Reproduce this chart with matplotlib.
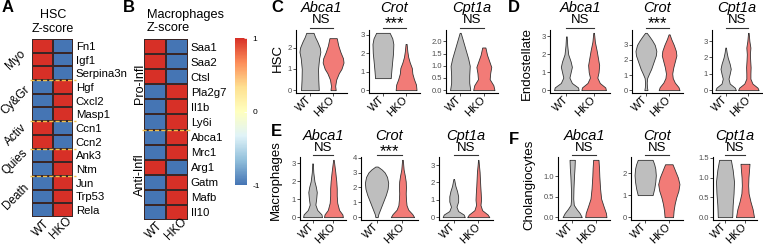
import numpy as np
import matplotlib
matplotlib.use("Agg")
import matplotlib.pyplot as plt
from matplotlib.colors import LinearSegmentedColormap, Normalize
from matplotlib.cm import ScalarMappable
from matplotlib.lines import Line2D
from matplotlib.ticker import MultipleLocator, FormatStrFormatter
from matplotlib.transforms import blended_transform_factory

plt.rcParams['font.family'] = ['Liberation Sans', 'DejaVu Sans']

W, H = 763, 246

# ---- heatmap A (HSC) z-scores
hsc_genes = ['Fn1', 'Igf1', 'Serpina3n', 'Hgf', 'Cxcl2', 'Masp1', 'Ccn1', 'Ccn2',
             'Ank3', 'Ntm', 'Jun', 'Trp53', 'Rela']
hsc_wt = [1, 1, 1, -1, -1, -1, 1, 1, -1, -1, -1, -1, -1]
hsc_hko = [-1, -1, -1, 1, 1, 1, -1, -1, 1, 1, 1, 1, 1]
hsc_groups = ['Myo', 'Cy&Gr', 'Activ', 'Quies', 'Death']
hsc_group_rows = [3, 3, 2, 2, 3]

# ---- heatmap B (macrophages) z-scores
mac_genes = ['Saa1', 'Saa2', 'Ctsl', 'Pla2g7', 'Il1b', 'Ly6i', 'Abca1', 'Mrc1',
             'Arg1', 'Gatm', 'Mafb', 'Il10']
mac_wt = [1, 1, 1, -1, -1, -1, -1, -1, 1, -1, -1, -1]
mac_hko = [-1, -1, -1, 1, 1, 1, 1, 1, -1, 1, 1, 1]
mac_groups = ['Pro-Infl', 'Anti-Infl']
mac_group_rows = [6, 6]

conditions = ['WT', 'HKO']
vln_genes = ['Abca1', 'Crot', 'Cpt1a']
cell_types = ['HSC', 'Endostellate', 'Macrophages', 'Cholangiocytes']
hsc_sig = ['NS', '***', 'NS']
endo_sig = ['NS', '***', 'NS']
mac_sig = ['NS', '***', 'NS']
chol_sig = ['NS', 'NS', 'NS']

# ---- violin outlines: (expression level, relative width)
hsc_abca1_wt = ([0, 0.5, 1.0, 1.5, 1.8, 2.0, 2.3, 2.5, 2.7],
                [0.85, 0.8, 0.78, 0.88, 1.0, 0.95, 0.7, 0.5, 0.35])
hsc_abca1_hko = ([0, 0.2, 0.5, 0.8, 1.0, 1.3, 1.5, 1.8, 2.1, 2.45],
                 [0.25, 0.2, 0.3, 0.55, 0.8, 1.0, 0.95, 0.7, 0.5, 0.35])
hsc_crot_wt = ([0.65, 1.0, 1.5, 2.0, 2.5, 2.8, 3.1],
               [0.75, 0.8, 0.88, 0.97, 1.0, 0.9, 0.65])
hsc_crot_hko = ([0, 0.3, 0.6, 0.9, 1.2, 1.5, 1.8, 2.1, 2.5],
                [1.0, 0.95, 0.75, 0.6, 0.55, 0.35, 0.2, 0.12, 0.05])
hsc_cpt1a_wt = ([0, 0.3, 0.6, 1.0, 1.3, 1.6, 1.9, 2.2, 2.35],
                [0.95, 0.85, 0.85, 0.9, 0.75, 0.55, 0.35, 0.15, 0.05])
hsc_cpt1a_hko = ([0, 0.2, 0.45, 0.7, 0.95, 1.2, 1.45, 1.75],
                 [1.0, 0.9, 0.55, 0.6, 0.7, 0.5, 0.3, 0.15])

endo_abca1_wt = ([0, 0.15, 0.4, 0.7, 1.0, 1.3, 1.6, 2.0, 2.5, 3.0],
                 [1.0, 0.95, 0.45, 0.25, 0.35, 0.45, 0.35, 0.15, 0.07, 0.03])
endo_abca1_hko = ([0, 0.15, 0.4, 0.7, 1.0, 1.4, 1.8, 2.2, 2.7, 3.2],
                  [1.0, 0.95, 0.5, 0.3, 0.4, 0.45, 0.35, 0.25, 0.1, 0.03])
endo_crot_wt = ([0, 0.2, 0.5, 0.8, 1.1, 1.4, 1.7, 2.0, 2.3, 2.6, 3.0, 3.3, 3.6, 3.8],
                [0.15, 0.1, 0.08, 0.12, 0.3, 0.5, 0.65, 0.8, 0.95, 1.0, 0.85, 0.6, 0.3, 0.08])
endo_crot_hko = ([0, 0.2, 0.5, 0.8, 1.1, 1.5, 1.9, 2.3, 2.6, 3.0, 3.4, 3.7],
                 [1.0, 0.9, 0.55, 0.35, 0.3, 0.4, 0.55, 0.7, 0.65, 0.45, 0.2, 0.05])
endo_cpt1a_wt = ([0, 0.15, 0.4, 0.7, 1.0, 1.3, 1.6, 2.0, 2.3, 2.6],
                 [1.0, 0.9, 0.4, 0.28, 0.4, 0.5, 0.4, 0.2, 0.1, 0.03])
endo_cpt1a_hko = ([0, 0.15, 0.4, 0.7, 1.0, 1.4, 1.8, 2.2, 2.6, 3.0, 3.5],
                  [1.0, 0.9, 0.4, 0.2, 0.2, 0.22, 0.18, 0.15, 0.2, 0.1, 0.03])

mac_abca1_wt = ([0, 0.15, 0.4, 0.7, 1.0, 1.4, 1.7, 2.0, 2.5, 3.0],
                [1.0, 0.95, 0.5, 0.3, 0.38, 0.45, 0.35, 0.2, 0.08, 0.03])
mac_abca1_hko = ([0, 0.15, 0.4, 0.8, 1.2, 1.6, 2.0, 2.5, 3.0, 3.2],
                 [1.0, 0.95, 0.6, 0.4, 0.35, 0.35, 0.3, 0.2, 0.08, 0.03])
mac_crot_wt = ([0, 0.2, 0.5, 0.8, 1.1, 1.5, 1.9, 2.3, 2.7, 3.0, 3.2, 3.4],
               [0.1, 0.15, 0.3, 0.45, 0.6, 0.8, 0.95, 1.0, 0.9, 0.7, 0.45, 0.1])
mac_crot_hko = ([0, 0.2, 0.5, 0.8, 1.2, 1.6, 2.0, 2.4, 2.8, 3.2, 3.85],
                [1.0, 0.85, 0.5, 0.35, 0.3, 0.28, 0.3, 0.28, 0.2, 0.1, 0.03])
mac_cpt1a_wt = ([0, 0.15, 0.35, 0.6, 0.9, 1.2, 1.5, 1.8, 2.2],
                [1.0, 0.9, 0.4, 0.25, 0.4, 0.4, 0.3, 0.15, 0.03])
mac_cpt1a_hko = ([0, 0.15, 0.4, 0.7, 1.0, 1.4, 1.8, 2.2, 2.6, 3.0, 3.3],
                 [1.0, 0.85, 0.35, 0.2, 0.25, 0.22, 0.18, 0.15, 0.12, 0.06, 0.02])

chol_abca1_wt = ([0, 0.1, 0.2, 0.3, 0.45, 0.7, 1.0, 1.2, 1.4],
                 [0.9, 0.7, 0.4, 0.15, 0.1, 0.12, 0.17, 0.22, 0.25])
chol_abca1_hko = ([0, 0.1, 0.25, 0.45, 0.7, 1.0, 1.2, 1.4],
                  [1.0, 0.95, 0.75, 0.5, 0.4, 0.33, 0.3, 0.25])
chol_crot_wt = ([1.0, 1.3, 1.6, 1.9, 2.2, 2.4, 2.6],
                [0.7, 0.85, 0.95, 1.0, 0.95, 0.85, 0.7])
chol_crot_hko = ([0, 0.3, 0.6, 0.9, 1.2, 1.5, 1.8, 2.1, 2.4],
                 [0.4, 0.45, 0.55, 0.7, 0.9, 1.0, 0.85, 0.6, 0.35])
chol_cpt1a_wt = ([0, 0.3, 0.6, 0.9, 1.2, 1.45],
                 [0.8, 0.85, 0.95, 1.0, 0.85, 0.65])
chol_cpt1a_hko = ([0, 0.2, 0.4, 0.6, 0.8, 1.0, 1.2, 1.35],
                  [1.0, 0.85, 0.6, 0.4, 0.35, 0.38, 0.45, 0.5])

cmap = LinearSegmentedColormap.from_list(
    'zs', ['#4575B4', '#91BFDB', '#E0F3F8', '#FFFFBF', '#FEE090', '#FC8D59', '#D73027'])
wt_color = '#BEBEBE'
hko_color = '#F27B77'
dark = '#333333'


def px_axes(fig, l, t, r, b):
    return fig.add_axes([l / W, 1 - b / H, (r - l) / W, (b - t) / H])


def ftext(fig, x, y, s, **kw):
    return fig.text(x / W, 1 - y / H, s, **kw)


def fline(fig, x0, x1, y, **kw):
    fig.add_artist(Line2D([x0 / W, x1 / W], [1 - y / H] * 2,
                          transform=fig.transFigure, **kw))


def heatmap(fig, box, genes, wt, hko, groups, group_rows, group_x, group_rot, gsize):
    l, t, r, b = box
    ax = px_axes(fig, *box)
    z = np.column_stack([wt, hko])
    ax.pcolormesh(z, cmap=cmap, vmin=-1, vmax=1, edgecolors='#3a2626', linewidth=0.35)
    ax.set_xlim(0, 2)
    ax.set_ylim(len(genes), 0)
    ax.yaxis.tick_right()
    ax.set_yticks(np.arange(len(genes)) + 0.5)
    ax.set_yticklabels(genes, fontsize=8.2)
    ax.tick_params(axis='y', length=0, pad=2)
    ax.set_xticks([])
    for s in ax.spines.values():
        s.set_visible(False)
    rowh = (b - t) / len(genes)
    start = 0
    for i, (g, n) in enumerate(zip(groups, group_rows)):
        yc = t + (start + n / 2) * rowh
        ftext(fig, group_x, yc, g, rotation=group_rot, ha='center', va='center',
              fontsize=gsize)
        start += n
        if i < len(groups) - 1:
            fline(fig, l - 2, r + 3, t + start * rowh, color='#F2C04A', lw=1.0,
                  ls=(0, (3, 1.5)))
    return ax


def violin_panel(fig, box, wt, hko, title, sig, step, row_y):
    l, t, r, b = box
    ax = px_axes(fig, *box)
    for x, (ys, ws), col in zip([1, 2], [wt, hko], [wt_color, hko_color]):
        ys = np.asarray(ys, float)
        ws = np.asarray(ws, float)
        yy = np.linspace(ys[0], ys[-1], 200)
        half = 0.45 * np.interp(yy, ys, ws)
        ax.fill_betweenx(yy, x - half, x + half, facecolor=col, edgecolor=dark, lw=0.6)
    top = max(wt[0][-1], hko[0][-1])
    ax.set_ylim(-0.05 * top, 1.05 * top)
    ax.set_xlim(0.4, 2.6)
    ax.yaxis.set_major_locator(MultipleLocator(step))
    ax.yaxis.set_major_formatter(FormatStrFormatter('%.1f' if step < 1 else '%d'))
    for s in ['top', 'right']:
        ax.spines[s].set_visible(False)
    for s in ['left', 'bottom']:
        ax.spines[s].set_linewidth(0.8)
    ax.tick_params(axis='y', length=2, width=0.6, color=dark, labelsize=5.5,
                   labelcolor='#4d4d4d', pad=1)
    ax.tick_params(axis='x', length=2, width=0.6, color=dark, pad=1.5)
    ax.set_xticks([1, 2])
    ax.set_xticklabels(conditions, fontsize=7.8, rotation=45, ha='right',
                       va='center', rotation_mode='anchor')

    def frac(ypx):
        return (b - ypx) / (b - t)

    title_y, sig_y, br_y = row_y
    ax.text(0.5, frac(title_y), title, transform=ax.transAxes, ha='center',
            va='center', fontsize=10.5, style='italic')
    bt = blended_transform_factory(ax.transData, ax.transAxes)
    if sig == '***':
        ax.text(1.5, frac(sig_y + 4), sig, transform=bt, ha='center',
                va='center', fontsize=12)
    else:
        ax.text(1.5, frac(sig_y), sig, transform=bt, ha='center', va='center',
                fontsize=9.5)
    ax.plot([1, 2], [frac(br_y)] * 2, transform=bt, color=dark, lw=0.8, clip_on=False)
    return ax


fig = plt.figure(figsize=(W / 100, H / 100), dpi=100)

# ---- A
heatmap(fig, (32, 39, 73, 217), hsc_genes, hsc_wt, hsc_hko, hsc_groups,
        hsc_group_rows, 15.5, 45, 8.5)
ftext(fig, 53, 15, 'HSC', ha='center', va='center', fontsize=9)
ftext(fig, 53, 29, 'Z-score', ha='center', va='center', fontsize=9)
ftext(fig, 41, 228, conditions[0], rotation=45, ha='center', va='center', fontsize=8.5)
ftext(fig, 61, 228, conditions[1], rotation=45, ha='center', va='center', fontsize=8.5)

# ---- B
heatmap(fig, (144, 39, 188, 220), mac_genes, mac_wt, mac_hko, mac_groups,
        mac_group_rows, 140, 90, 9)
ftext(fig, 147, 15, 'Macrophages', ha='left', va='center', fontsize=9.2)
ftext(fig, 147, 28, 'Z-score', ha='left', va='center', fontsize=9.2)
ftext(fig, 154, 230, conditions[0], rotation=45, ha='center', va='center', fontsize=8.5)
ftext(fig, 176, 229, conditions[1], rotation=45, ha='center', va='center', fontsize=8.5)

cax = px_axes(fig, 235, 38, 247, 185)
cb = fig.colorbar(ScalarMappable(Normalize(-1, 1), cmap), cax=cax, ticks=[-1, 0, 1])
cb.outline.set_visible(False)
cax.tick_params(length=2.5, width=0.6, color='white', direction='in', labelsize=6,
                pad=4)
cax.set_yticklabels(['-1', '0', '1'])

# ---- violins
row1 = (8, 20, 28)
row2 = (136, 148, 155)
panels = [
    ((296, 30, 347, 93), hsc_abca1_wt, hsc_abca1_hko, 0, hsc_sig, 1, row1),
    ((369, 30, 420, 93), hsc_crot_wt, hsc_crot_hko, 1, hsc_sig, 1, row1),
    ((446, 30, 498, 93), hsc_cpt1a_wt, hsc_cpt1a_hko, 2, hsc_sig, 0.5, row1),
    ((550, 30, 610, 93), endo_abca1_wt, endo_abca1_hko, 0, endo_sig, 1, row1),
    ((632, 30, 683, 93), endo_crot_wt, endo_crot_hko, 1, endo_sig, 1, row1),
    ((712, 30, 762, 93), endo_cpt1a_wt, endo_cpt1a_hko, 2, endo_sig, 1, row1),
    ((300, 157, 346, 220), mac_abca1_wt, mac_abca1_hko, 0, mac_sig, 1, row2),
    ((361, 157, 418, 220), mac_crot_wt, mac_crot_hko, 1, mac_sig, 1, row2),
    ((439, 157, 493, 220), mac_cpt1a_wt, mac_cpt1a_hko, 2, mac_sig, 1, row2),
    ((558, 157, 610, 220), chol_abca1_wt, chol_abca1_hko, 0, chol_sig, 0.5, row2),
    ((631, 157, 683, 220), chol_crot_wt, chol_crot_hko, 1, chol_sig, 1, row2),
    ((713, 157, 757, 220), chol_cpt1a_wt, chol_cpt1a_hko, 2, chol_sig, 0.5, row2),
]
for box, wt, hko, gi, sigs, step, ry in panels:
    violin_panel(fig, box, wt, hko, vln_genes[gi], sigs[gi], step, ry)

ftext(fig, 278, 58, cell_types[0], rotation=90, ha='center', va='center', fontsize=9.5)
ftext(fig, 527, 63, cell_types[1], rotation=90, ha='center', va='center', fontsize=9.5)
ftext(fig, 276, 180, cell_types[2], rotation=90, ha='center', va='center', fontsize=9.5)
ftext(fig, 529, 185, cell_types[3], rotation=90, ha='center', va='center', fontsize=9.5)

# panel letters
for letter, x, y in [('A', 2, 8), ('B', 123, 8), ('C', 271, 8), ('D', 508, 8),
                     ('E', 271, 131), ('F', 509, 139)]:
    ftext(fig, x, y, letter, ha='left', va='center', fontsize=12, fontweight='bold')

fig.savefig('out.png', dpi=100)
